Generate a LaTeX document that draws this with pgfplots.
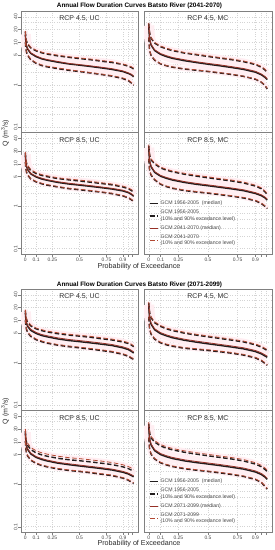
\documentclass[border=0pt]{standalone}
\usepackage{fontspec}
\setmainfont{Liberation Sans}
\usepackage{pgfplots}
\pgfplotsset{compat=1.18}
\usepackage{pgfplotstable}

\definecolor{histcol}{RGB}{35,30,30}
\definecolor{futmed}{RGB}{150,48,38}
\definecolor{futdash}{RGB}{178,72,50}
\definecolor{bandpink}{RGB}{255,238,242}
\definecolor{axgray}{RGB}{128,128,128}
\definecolor{gridgray}{RGB}{212,212,212}
\definecolor{txtgray}{RGB}{70,70,70}

\pgfplotstableread{
p bm bu bl rm ru rl
0 15 18 10 15.6 18.7 10.3
0.005 10 12.5 7.2 10.4 13 7.4
0.01 8.4 10.8 6.0 8.7 11.2 6.2
0.02 7.0 9.2 5.0 7.3 9.6 5.15
0.05 5.5 7.4 3.9 5.7 7.7 4.0
0.1 4.6 6.3 3.2 4.8 6.55 3.3
0.15 4.1 5.7 2.85 4.25 5.9 2.95
0.2 3.8 5.3 2.65 3.95 5.5 2.75
0.3 3.4 4.8 2.4 3.55 5.0 2.5
0.4 3.1 4.45 2.2 3.2 4.6 2.27
0.5 2.9 4.15 2.05 3.0 4.3 2.1
0.6 2.7 3.9 1.9 2.8 4.05 1.95
0.7 2.5 3.6 1.75 2.6 3.75 1.8
0.8 2.3 3.35 1.6 2.4 3.5 1.65
0.9 2.05 3.0 1.4 2.13 3.1 1.45
0.95 1.85 2.75 1.25 1.92 2.85 1.3
0.98 1.7 2.55 1.1 1.77 2.65 1.13
1 1.55 2.35 0.97 1.6 2.45 1.0
}\tAa
\pgfplotstableread{
p bm bu bl rm ru rl
0 24 28 13 25 29 13.3
0.005 14 19 7.5 14.7 19.8 7.65
0.01 11 15.5 6.0 11.5 16.1 6.1
0.02 8.6 12.5 4.9 9.0 13 5.0
0.05 6.4 9.6 3.8 6.7 10 3.9
0.1 5.2 7.9 3.1 5.45 8.2 3.15
0.15 4.6 7.0 2.8 4.85 7.3 2.85
0.2 4.2 6.4 2.6 4.4 6.65 2.65
0.3 3.7 5.6 2.35 3.9 5.8 2.4
0.4 3.35 5.1 2.2 3.5 5.3 2.25
0.5 3.05 4.65 2.05 3.2 4.85 2.1
0.6 2.8 4.25 1.9 2.95 4.4 1.94
0.7 2.55 3.9 1.75 2.68 4.05 1.78
0.8 2.3 3.5 1.58 2.42 3.65 1.6
0.9 1.98 3.0 1.35 2.08 3.12 1.38
0.95 1.72 2.6 1.15 1.8 2.7 1.17
0.98 1.5 2.25 0.97 1.58 2.35 0.99
1 1.32 1.95 0.8 1.39 2.03 0.82
}\tAb
\pgfplotstableread{
p bm bu bl rm ru rl
0 16 18 11 16.6 19 11.3
0.005 10.5 12.5 7.6 10.9 13.1 7.8
0.01 8.8 10.5 6.5 9.15 11 6.7
0.02 7.4 8.9 5.5 7.7 9.35 5.65
0.05 5.8 7.0 4.4 6.0 7.35 4.5
0.1 4.9 5.9 3.75 5.1 6.2 3.85
0.15 4.4 5.35 3.4 4.6 5.6 3.5
0.2 4.1 5.0 3.15 4.25 5.25 3.25
0.3 3.65 4.5 2.85 3.8 4.7 2.93
0.4 3.35 4.2 2.6 3.5 4.4 2.68
0.5 3.15 3.95 2.45 3.28 4.15 2.52
0.6 2.95 3.7 2.3 3.07 3.9 2.37
0.7 2.75 3.45 2.15 2.86 3.6 2.2
0.8 2.55 3.2 1.98 2.65 3.35 2.04
0.9 2.3 2.85 1.75 2.4 3.0 1.8
0.95 2.1 2.6 1.58 2.18 2.73 1.63
0.98 1.9 2.35 1.42 1.98 2.47 1.46
1 1.72 2.15 1.28 1.8 2.25 1.32
}\tAc
\pgfplotstableread{
p bm bu bl rm ru rl
0 23 27 13 24 28.4 13.4
0.005 13.5 18.5 8 14.2 19.4 8.25
0.01 10.8 15 6.5 11.3 15.8 6.7
0.02 8.5 12.5 5.4 8.9 13.1 5.55
0.05 6.3 10 4.2 6.6 10.5 4.33
0.1 5.1 8.0 3.3 5.35 8.4 3.4
0.15 4.55 7.1 2.9 4.78 7.45 3.0
0.2 4.15 6.5 2.65 4.36 6.8 2.73
0.3 3.65 5.7 2.35 3.83 6.0 2.42
0.4 3.3 5.15 2.17 3.47 5.4 2.24
0.5 3.05 4.7 2.03 3.2 4.95 2.09
0.6 2.8 4.3 1.88 2.94 4.5 1.94
0.7 2.57 3.95 1.73 2.7 4.15 1.78
0.8 2.33 3.55 1.57 2.45 3.73 1.62
0.9 2.0 3.0 1.35 2.1 3.15 1.39
0.95 1.78 2.6 1.16 1.87 2.73 1.2
0.98 1.58 2.2 1.0 1.66 2.3 1.03
1 1.4 1.9 0.88 1.47 2.0 0.9
}\tAd
\pgfplotstableread{
p bm bu bl rm ru rl
0 15 17 10 15.9 17.9 10.4
0.005 10.3 12.5 7.3 10.9 13.1 7.6
0.01 8.7 10.7 6.2 9.2 11.2 6.45
0.02 7.3 9.2 5.2 7.75 9.65 5.4
0.05 5.8 7.4 4.2 6.15 7.8 4.37
0.1 4.9 6.3 3.5 5.2 6.6 3.64
0.15 4.4 5.75 3.15 4.65 6.05 3.28
0.2 4.1 5.35 2.9 4.35 5.6 3.02
0.3 3.65 4.85 2.6 3.87 5.1 2.7
0.4 3.35 4.5 2.4 3.55 4.72 2.5
0.5 3.15 4.25 2.25 3.34 4.46 2.34
0.6 2.95 4.0 2.1 3.13 4.2 2.18
0.7 2.75 3.7 1.95 2.92 3.9 2.03
0.8 2.55 3.45 1.8 2.7 3.62 1.87
0.9 2.25 3.1 1.58 2.38 3.25 1.64
0.95 2.05 2.85 1.42 2.17 3.0 1.48
0.98 1.85 2.6 1.28 1.96 2.73 1.33
1 1.7 2.4 1.2 1.8 2.52 1.25
}\tBa
\pgfplotstableread{
p bm bu bl rm ru rl
0 22 26 12 23.3 27.3 12.5
0.005 13 17.5 7.2 13.8 18.4 7.5
0.01 10.3 14.2 5.8 10.9 14.9 6.0
0.02 8.1 11.5 4.7 8.6 12.1 4.9
0.05 6.0 8.8 3.6 6.35 9.25 3.75
0.1 4.85 7.2 2.95 5.15 7.55 3.07
0.15 4.3 6.3 2.65 4.55 6.6 2.76
0.2 3.9 5.75 2.45 4.13 6.05 2.55
0.3 3.4 5.0 2.2 3.6 5.25 2.29
0.4 3.07 4.5 2.07 3.25 4.72 2.15
0.5 2.8 4.1 1.95 2.97 4.3 2.03
0.6 2.57 3.75 1.82 2.72 3.94 1.89
0.7 2.35 3.42 1.68 2.49 3.6 1.75
0.8 2.13 3.1 1.52 2.26 3.25 1.58
0.9 1.84 2.65 1.3 1.95 2.78 1.35
0.95 1.62 2.35 1.12 1.72 2.47 1.16
0.98 1.45 2.1 0.97 1.54 2.2 1.01
1 1.35 1.95 0.87 1.43 2.05 0.9
}\tBb
\pgfplotstableread{
p bm bu bl rm ru rl
0 16 18 10.5 16.8 20.2 10.8
0.005 9.8 12 6.7 10.3 13.4 6.9
0.01 8.1 10 5.6 8.5 11.2 5.77
0.02 6.7 8.4 4.7 7.0 9.4 4.84
0.05 5.2 6.6 3.7 5.45 7.4 3.8
0.1 4.3 5.5 3.1 4.5 6.15 3.2
0.15 3.85 4.95 2.78 4.05 5.55 2.86
0.2 3.55 4.6 2.58 3.73 5.15 2.66
0.3 3.15 4.1 2.3 3.3 4.6 2.37
0.4 2.9 3.8 2.12 3.05 4.25 2.18
0.5 2.7 3.6 2.0 2.84 4.03 2.06
0.6 2.52 3.38 1.87 2.65 3.78 1.93
0.7 2.35 3.15 1.73 2.47 3.53 1.78
0.8 2.17 2.92 1.6 2.28 3.27 1.65
0.9 1.92 2.58 1.4 2.02 2.89 1.44
0.95 1.75 2.35 1.25 1.84 2.63 1.29
0.98 1.6 2.15 1.12 1.68 2.4 1.15
1 1.5 2.0 1.05 1.58 2.24 1.08
}\tBc
\pgfplotstableread{
p bm bu bl rm ru rl
0 23 27 12.5 24.4 29.2 12.9
0.005 13.5 18.5 7.6 14.3 20 7.8
0.01 10.7 15 6.2 11.3 16.2 6.4
0.02 8.4 12.4 5.1 8.9 13.4 5.25
0.05 6.2 9.9 3.95 6.57 10.7 4.07
0.1 5.0 8.0 3.2 5.3 8.65 3.3
0.15 4.45 7.1 2.85 4.72 7.67 2.94
0.2 4.05 6.5 2.62 4.3 7.0 2.7
0.3 3.57 5.7 2.33 3.78 6.15 2.4
0.4 3.25 5.15 2.15 3.45 5.56 2.21
0.5 3.0 4.7 2.0 3.18 5.08 2.06
0.6 2.76 4.3 1.86 2.93 4.64 1.92
0.7 2.52 3.95 1.7 2.67 4.27 1.75
0.8 2.28 3.55 1.53 2.42 3.83 1.58
0.9 1.95 3.0 1.3 2.07 3.24 1.34
0.95 1.7 2.6 1.1 1.8 2.8 1.13
0.98 1.48 2.25 0.9 1.57 2.43 0.93
1 1.3 2.0 0.77 1.38 2.16 0.79
}\tBd

\tikzset{
  fdcbmed/.style={histcol, line width=1.4bp},
  fdcbdash/.style={histcol, line width=1.4bp, dash pattern=on 4.5bp off 2.5bp},
  fdcrmed/.style={futmed, line width=0.8bp},
  fdcrdash/.style={futdash, line width=0.8bp, dash pattern=on 4.5bp off 2.5bp},
  fdchalo/.style={bandpink, line width=5bp},
  fdcband/.style={bandpink, line width=11bp},
}
\pgfplotsset{
  every axis/.append style={
    scale only axis,
    xmin=-0.04, xmax=1.04, ymin=0.075, ymax=55,
    height=121.5bp,
    axis line style={axgray, line width=0.5bp},
    xtick={0,0.1,0.25,0.5,0.75,0.9,0.95,0.99},
    xticklabels={0,0.1,0.25,0.5,0.75,0.9,,},
    ytick={0.1,1,5,10,20,40},
    yticklabels={0.1,1,5,10,20,40},
    minor ytick={0.2,0.3,0.5,0.7,2,3,7,30},
    grid=both,
    major grid style={gridgray, dotted, line width=0.45bp},
    minor grid style={gridgray, dotted, line width=0.35bp},
    minor tick length=0pt,
    tick align=outside, major tick length=2.5bp,
    tick style={axgray, line width=0.4bp},
    xtick pos=bottom, ytick pos=left,
    ticklabel style={font=\fontsize{5}{6}\selectfont, inner sep=1bp, text=txtgray},
    yticklabel style={rotate=90, anchor=south},
  },
}

\newcommand{\panelcurves}[1]{%
  \addplot[fdcband, forget plot] table[x=p,y=rm]{#1};
  \addplot[fdchalo, forget plot] table[x=p,y=ru]{#1};
  \addplot[fdchalo, forget plot] table[x=p,y=rl]{#1};
  \addplot[fdcbmed, forget plot] table[x=p,y=bm]{#1};
  \addplot[fdcbdash, forget plot] table[x=p,y=bu]{#1};
  \addplot[fdcbdash, forget plot] table[x=p,y=bl]{#1};
  \addplot[fdcrmed, forget plot] table[x=p,y=rm]{#1};
  \addplot[fdcrdash, forget plot] table[x=p,y=ru]{#1};
  \addplot[fdcrdash, forget plot] table[x=p,y=rl]{#1};
}
\newcommand{\ptitle}[1]{\node[font=\fontsize{7}{8}\selectfont, text=txtgray!70!black] at (rel axis cs:0.5,1) [yshift=-8bp] {#1};}

\begin{document}
\begin{tikzpicture}
\useasboundingbox (0,0) rectangle (275bp,-550bp);

\node[font=\bfseries\fontsize{6.4}{7}\selectfont] at (139.5bp,-6bp) {Annual Flow Duration Curves Batsto River (2041-2070)};

\begin{axis}[ymode=log, width=117bp, xticklabels={}, xtick style={draw=none}, at={(21bp,-11bp)}, anchor=north west]
\panelcurves{\tAa}
\ptitle{RCP 4.5, UC}
\end{axis}
\begin{axis}[ymode=log, width=128bp, xticklabels={}, xtick style={draw=none}, yticklabels={}, ytick style={draw=none}, at={(144bp,-11bp)}, anchor=north west]
\panelcurves{\tAb}
\ptitle{RCP 4.5, MC}
\end{axis}
\begin{axis}[ymode=log, width=117bp, at={(21bp,-132.5bp)}, anchor=north west]
\panelcurves{\tAc}
\ptitle{RCP 8.5, UC}
\end{axis}
\begin{axis}[ymode=log, width=128bp, yticklabels={}, ytick style={draw=none}, at={(144bp,-132.5bp)}, anchor=north west,
  legend style={at={(0.04,0.455)}, anchor=north west, draw=none, fill=none,
    font=\fontsize{5.2}{6.4}\selectfont, text=txtgray, cells={align=left}, row sep=0bp, inner sep=0bp},
  legend cell align=left,
  legend image code/.code={\draw[#1] (0bp,0bp) -- (8bp,0bp);}]
\panelcurves{\tAd}
\ptitle{RCP 8.5, MC}
\addlegendimage{fdcbmed}\addlegendentry{GCM 1956-2005\ \ (median)}
\addlegendimage{fdcbdash}\addlegendentry{GCM 1956-2005\\(10\% and 90\% excedance level)}
\addlegendimage{fdcrmed}\addlegendentry{GCM 2041-2070 (median)}
\addlegendimage{fdcrdash}\addlegendentry{GCM 2041-2070\\(10\% and 90\% excedance level)}
\end{axis}
\node[rotate=90, font=\fontsize{7}{8}\selectfont, text=txtgray!60!black] at (5bp,-133bp) {Q (m\textsuperscript{3}/s)};
\node[font=\fontsize{7.2}{8}\selectfont, text=txtgray!60!black] at (139bp,-267bp) {Probability of Exceedance};

\node[font=\bfseries\fontsize{6.4}{7}\selectfont] at (139.5bp,-284.5bp) {Annual Flow Duration Curves Batsto River (2071-2099)};

\begin{axis}[ymode=log, width=117bp, xticklabels={}, xtick style={draw=none}, at={(21bp,-289bp)}, anchor=north west]
\panelcurves{\tBa}
\ptitle{RCP 4.5, UC}
\end{axis}
\begin{axis}[ymode=log, width=128bp, xticklabels={}, xtick style={draw=none}, yticklabels={}, ytick style={draw=none}, at={(144bp,-289bp)}, anchor=north west]
\panelcurves{\tBb}
\ptitle{RCP 4.5, MC}
\end{axis}
\begin{axis}[ymode=log, width=117bp, at={(21bp,-410.5bp)}, anchor=north west]
\panelcurves{\tBc}
\ptitle{RCP 8.5, UC}
\end{axis}
\begin{axis}[ymode=log, width=128bp, yticklabels={}, ytick style={draw=none}, at={(144bp,-410.5bp)}, anchor=north west,
  legend style={at={(0.04,0.455)}, anchor=north west, draw=none, fill=none,
    font=\fontsize{5.2}{6.4}\selectfont, text=txtgray, cells={align=left}, row sep=0bp, inner sep=0bp},
  legend cell align=left,
  legend image code/.code={\draw[#1] (0bp,0bp) -- (8bp,0bp);}]
\panelcurves{\tBd}
\ptitle{RCP 8.5, MC}
\addlegendimage{fdcbmed}\addlegendentry{GCM 1956-2005\ \ (median)}
\addlegendimage{fdcbdash}\addlegendentry{GCM 1956-2005\\(10\% and 90\% excedance level)}
\addlegendimage{fdcrmed}\addlegendentry{GCM 2071-2099 (median)}
\addlegendimage{fdcrdash}\addlegendentry{GCM 2071-2099\\(10\% and 90\% excedance level)}
\end{axis}
\node[rotate=90, font=\fontsize{7}{8}\selectfont, text=txtgray!60!black] at (5bp,-411bp) {Q (m\textsuperscript{3}/s)};
\node[font=\fontsize{7.2}{8}\selectfont, text=txtgray!60!black] at (139bp,-544bp) {Probability of Exceedance};
\end{tikzpicture}
\end{document}
